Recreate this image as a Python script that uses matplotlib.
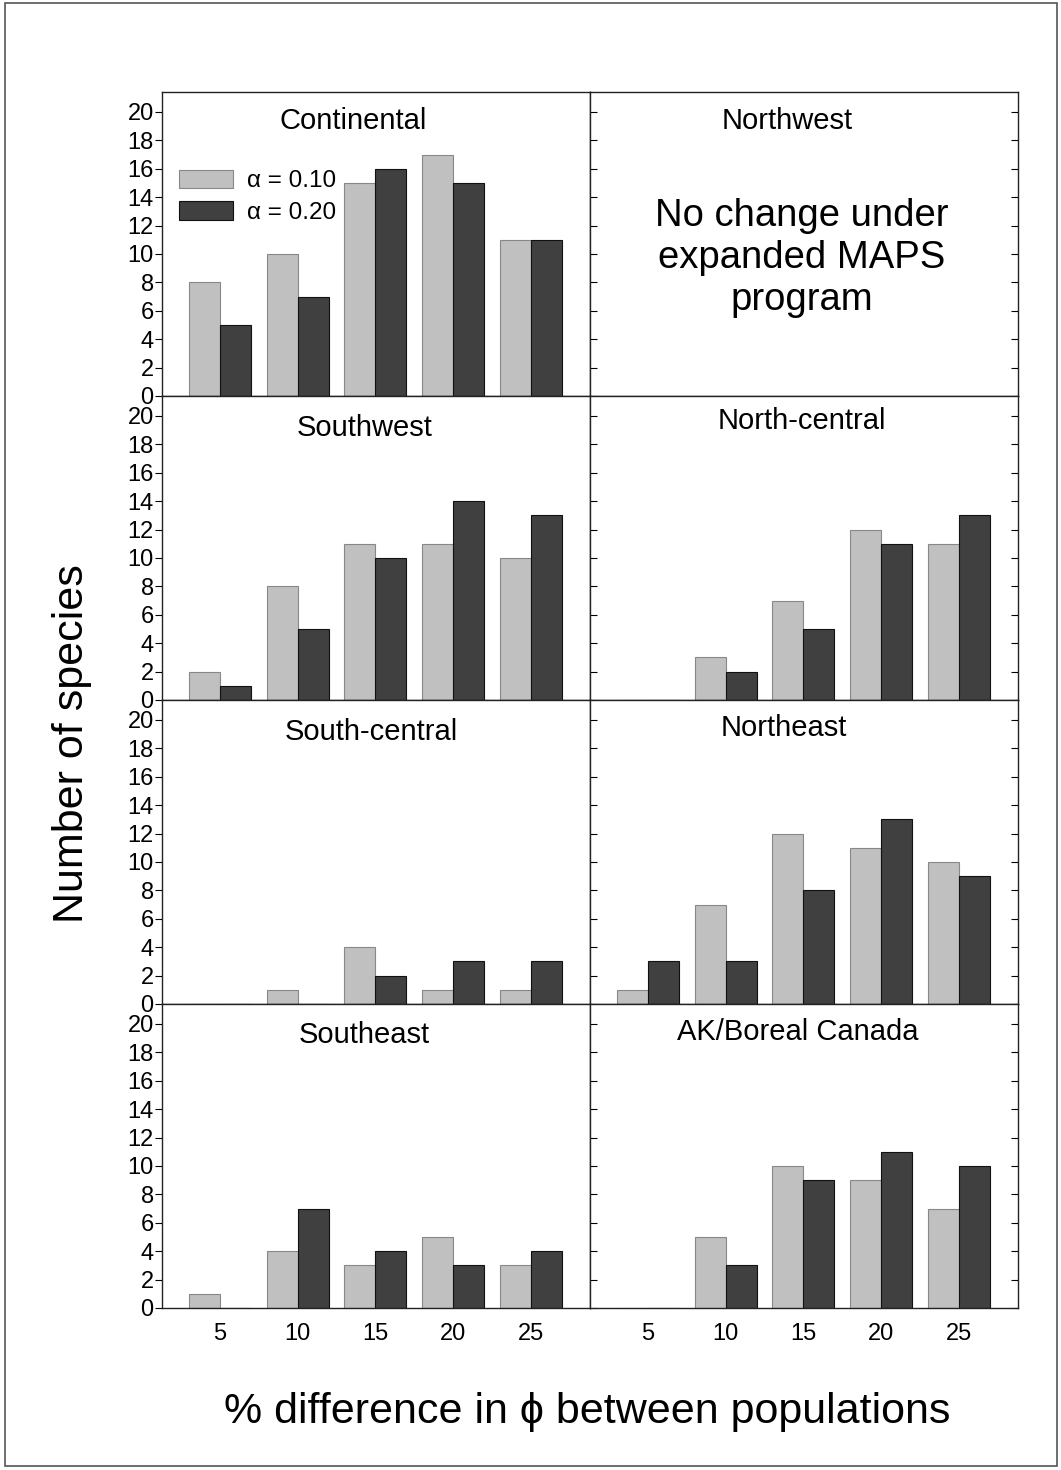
import matplotlib
matplotlib.use("Agg")
import matplotlib.pyplot as plt
from matplotlib.patches import Rectangle
import numpy as np

plt.rcParams['font.family'] = ['Liberation Sans', 'DejaVu Sans']

categories = [5, 10, 15, 20, 25]
panels = ["Continental", "Northwest", "Southwest", "North-central",
          "South-central", "Northeast", "Southeast", "AK/Boreal Canada"]
alpha10 = {
    "Continental": [8, 10, 15, 17, 11],
    "Northwest": None,
    "Southwest": [2, 8, 11, 11, 10],
    "North-central": [0, 3, 7, 12, 11],
    "South-central": [0, 1, 4, 1, 1],
    "Northeast": [1, 7, 12, 11, 10],
    "Southeast": [1, 4, 3, 5, 3],
    "AK/Boreal Canada": [0, 5, 10, 9, 7],
}
alpha20 = {
    "Continental": [5, 7, 16, 15, 11],
    "Northwest": None,
    "Southwest": [1, 5, 10, 14, 13],
    "North-central": [0, 2, 5, 11, 13],
    "South-central": [0, 0, 2, 3, 3],
    "Northeast": [3, 3, 8, 13, 9],
    "Southeast": [0, 7, 4, 3, 4],
    "AK/Boreal Canada": [0, 3, 9, 11, 10],
}
yticks = list(range(0, 21, 2))

W, H = 1061, 1470
fig = plt.figure(figsize=(W / 100, H / 100), dpi=100)
fig.patches.append(Rectangle((5 / W, 1 - 1466 / H), 1052 / W, 1463 / H,
                             transform=fig.transFigure, fill=False,
                             edgecolor='#555555', linewidth=1.2))

light = '#c0c0c0'
dark = '#404040'
col_x = [162, 590]
row_y = [92, 396, 700, 1004]
pw, ph = 428, 304
x = np.array(categories, dtype=float)
bw = 2.0

title_pos = {"Continental": (0.446, 0.905), "Northwest": (0.46, 0.905),
             "Southwest": (0.474, 0.895), "North-central": (0.496, 0.918),
             "South-central": (0.488, 0.895), "Northeast": (0.453, 0.908),
             "Southeast": (0.473, 0.898), "AK/Boreal Canada": (0.485, 0.908)}

for i, name in enumerate(panels):
    r, c = divmod(i, 2)
    ax = fig.add_axes([col_x[c] / W, 1 - (row_y[r] + ph) / H, pw / W, ph / H])
    ax.set_xlim(1.28, 28.8)
    ax.set_ylim(0, 21.4)
    ax.set_yticks(yticks)
    ax.set_xticks(categories)
    for s in ax.spines.values():
        s.set_linewidth(1.0)
        s.set_color('#222222')
    if alpha10[name] is not None:
        ax.bar(x - bw / 2, alpha10[name], width=bw, color=light,
               edgecolor='#888888', linewidth=0.8, label='α = 0.10')
        ax.bar(x + bw / 2, alpha20[name], width=bw, color=dark,
               edgecolor='#111111', linewidth=0.8, label='α = 0.20')
    if c == 0:
        ax.tick_params(axis='y', direction='out', length=5, width=0.8,
                       labelsize=17, pad=1, left=True, right=False)
    else:
        ax.tick_params(axis='y', direction='in', length=5, width=0.8,
                       left=True, right=True, labelleft=False)
    ax.tick_params(axis='x', length=0, labelsize=17, pad=11)
    if r < 3:
        ax.tick_params(axis='x', labelbottom=False)
    tx, ty = title_pos[name]
    ax.text(tx, ty, name, transform=ax.transAxes, ha='center', va='center',
            fontsize=21)
    if name == "Continental":
        ax.legend(loc='upper left', bbox_to_anchor=(0.039, 0.745), frameon=False,
                  fontsize=17.5, handlelength=2.25, handleheight=0.8,
                  handletextpad=0.55, labelspacing=0.38, borderaxespad=0,
                  borderpad=0)
    if name == "Northwest":
        ax.text(0.495, 0.455, "No change under\nexpanded MAPS\nprogram",
                transform=ax.transAxes, ha='center', va='center',
                fontsize=27.5, linespacing=1.21)

fig.text(72 / W, 1 - 744 / H, "Number of species", rotation=90,
         ha='center', va='center', fontsize=31)
fig.text(587 / W, 1 - 1412 / H, "% difference in ϕ between populations",
         ha='center', va='center', fontsize=31)

fig.savefig("out.png", dpi=100)
